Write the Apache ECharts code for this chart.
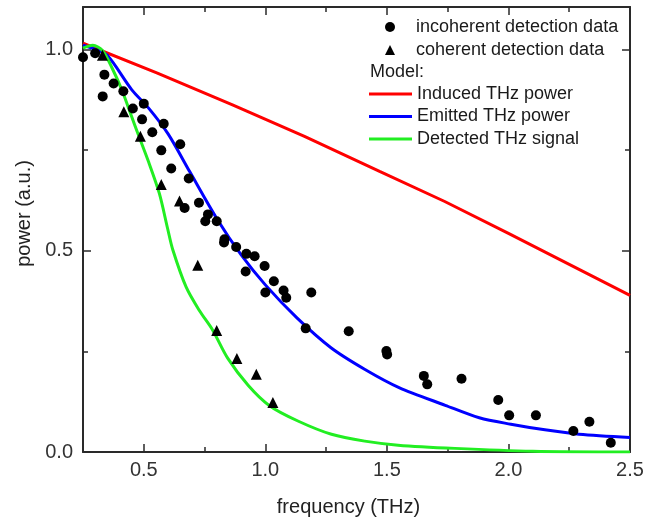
<!DOCTYPE html>
<html>
<head>
<meta charset="utf-8">
<script src="https://cdn.jsdelivr.net/npm/echarts@6/dist/echarts.min.js"></script>
<style>
html,body{margin:0;padding:0;background:#fff;}
#chart{width:647px;height:522px;}
</style>
</head>
<body>
<div id="chart"></div>
<script>
// ---- data ----
var incoherentX = [0.25,0.30,0.331,0.338,0.376,0.416,0.455,0.50,0.493,0.535,0.582,0.572,0.65,0.613,0.685,0.727,0.668,0.764,0.753,0.80,0.832,0.83,0.88,0.922,0.956,0.919,0.997,1.0,1.035,1.075,1.086,1.189,1.166,1.343,1.498,1.501,1.652,1.666,1.807,1.958,2.003,2.113,2.267,2.333,2.421];
var incoherentY = [0.98,0.99,0.883,0.937,0.915,0.896,0.853,0.865,0.826,0.794,0.815,0.749,0.764,0.704,0.679,0.619,0.606,0.59,0.573,0.573,0.528,0.52,0.509,0.492,0.486,0.448,0.462,0.396,0.424,0.401,0.383,0.396,0.307,0.30,0.251,0.242,0.189,0.168,0.182,0.129,0.091,0.091,0.052,0.075,0.023];

var coherentX = [0.33,0.418,0.486,0.572,0.647,0.722,0.80,0.883,0.963,1.031];
var coherentY = [0.985,0.845,0.784,0.664,0.623,0.464,0.302,0.232,0.193,0.123];

var inducedX = [0.25,0.556,0.865,1.161,1.47,1.738,2.0,2.25,2.5];
var inducedY = [1.015,0.941,0.862,0.784,0.697,0.622,0.543,0.466,0.389];

var emittedX = [0.25,0.30,0.35,0.45,0.52,0.60,0.69,0.80,0.90,1.0,1.13,1.27,1.41,1.55,1.74,1.88,2.01,2.15,2.29,2.5];
var emittedY = [1.01,1.0,0.985,0.90,0.854,0.79,0.695,0.58,0.49,0.415,0.333,0.259,0.205,0.16,0.116,0.085,0.069,0.055,0.044,0.036];

var detectedX = [0.25,0.29,0.33,0.37,0.41,0.45,0.48,0.52,0.564,0.598,0.619,0.674,0.73,0.783,0.845,0.93,1.017,1.134,1.272,1.409,1.546,1.78,2.1,2.5];
var detectedY = [1.003,1.01,0.997,0.953,0.899,0.833,0.784,0.72,0.642,0.555,0.503,0.41,0.35,0.303,0.233,0.165,0.115,0.077,0.044,0.027,0.017,0.009,0.002,0.0];

var xMajorTicks = [0.5,1.0,1.5,2.0,2.5];
var xMinorTicks = [0.75,1.25,1.75,2.25];
var yMajorTicks = [0.0,0.5,1.0];
var yMinorTicks = [0.25,0.75];

var seriesNames = ['incoherent detection data','coherent detection data','Induced THz power','Emitted THz power','Detected THz signal'];

function pairs(xs, ys){ return xs.map(function(x,i){ return [x, ys[i]]; }); }

var FONT = '"Liberation Sans", Arial, sans-serif';
var AX = '#2a2a2a';

function xAxisDef(pos, major, show){
  return {
    type:'value', gridIndex:0, position:pos, min:0.25, max:2.5,
    axisLine:{show:show, onZero:false, lineStyle:{color:AX, width:2}},
    axisTick:{show:true, inside:true, length: major ? 8 : 5, customValues: major ? xMajorTicks : xMinorTicks, lineStyle:{color:AX, width:1.5}},
    axisLabel:{show:false},
    splitLine:{show:false}
  };
}
function yAxisDef(pos, major, show){
  return {
    type:'value', gridIndex:0, position:pos, min:0, max:1.105,
    axisLine:{show:show, onZero:false, lineStyle:{color:AX, width:2}},
    axisTick:{show:true, inside:true, length: major ? 8 : 5, customValues: major ? yMajorTicks : yMinorTicks, lineStyle:{color:AX, width:1.5}},
    axisLabel:{show:false},
    splitLine:{show:false}
  };
}

var xMain = xAxisDef('bottom', true, true);
xMain.axisLabel = {show:true, customValues:xMajorTicks, formatter:function(v){return v.toFixed(1);}, fontSize:20, color:'#333', margin:8, fontFamily:FONT};
xMain.name = 'frequency (THz)';
xMain.nameLocation = 'middle';
xMain.nameGap = 45;
xMain.nameTextStyle = {fontSize:20, color:'#222', fontFamily:FONT, padding:[0,16,0,0]};

var yMain = yAxisDef('left', true, true);
yMain.axisLabel = {show:true, customValues:yMajorTicks, formatter:function(v){return v.toFixed(1);}, fontSize:20, color:'#333', margin:10, fontFamily:FONT};
yMain.name = 'power (a.u.)';
yMain.nameLocation = 'middle';
yMain.nameGap = 49;
yMain.nameTextStyle = {fontSize:20, color:'#222', fontFamily:FONT, padding:[0,0,0,32]};

var legendText = {fontSize:18, color:'#1a1a1a', fontFamily:FONT};

var chart = echarts.init(document.getElementById('chart'), null, {renderer:'canvas'});
chart.setOption({
  animation:false,
  backgroundColor:'#fff',
  textStyle:{fontFamily:FONT},
  grid:{left:83, right:17, top:7, bottom:69, containLabel:false},
  xAxis:[xMain, xAxisDef('bottom', false, false), xAxisDef('top', true, true), xAxisDef('top', false, false)],
  yAxis:[yMain, yAxisDef('left', false, false), yAxisDef('right', true, true), yAxisDef('right', false, false)],
  legend:[
    {data:[{name:seriesNames[0], icon:'circle'}, {name:seriesNames[1], icon:'triangle'}],
     orient:'vertical', left:385, top:18, padding:0, itemWidth:10, itemHeight:10, itemGap:5, selectedMode:false,
     textStyle:Object.assign({padding:[0,0,0,16]}, legendText)},
    {data:[{name:seriesNames[2], icon:'rect'}, {name:seriesNames[3], icon:'rect'}, {name:seriesNames[4], icon:'rect'}],
     orient:'vertical', left:369, top:85, padding:0, itemWidth:43, itemHeight:3, itemGap:4.5, selectedMode:false,
     textStyle:Object.assign({lineHeight:18}, legendText)}
  ],
  graphic:[
    {type:'text', left:370, top:63, style:{text:'Model:', fontSize:18, fill:'#1a1a1a', fontFamily:FONT}}
  ],
  series:[
    {name:seriesNames[2], type:'line', data:pairs(inducedX, inducedY), symbol:'none', smooth:false,
     lineStyle:{color:'#ff0000', width:3}, itemStyle:{color:'#ff0000'}, z:2},
    {name:seriesNames[3], type:'line', data:pairs(emittedX, emittedY), symbol:'none', smooth:0.3,
     lineStyle:{color:'#0000ff', width:3}, itemStyle:{color:'#0000ff'}, z:2},
    {name:seriesNames[4], type:'line', data:pairs(detectedX, detectedY), symbol:'none', smooth:0.3,
     lineStyle:{color:'#22ee22', width:3}, itemStyle:{color:'#22ee22'}, z:2},
    {name:seriesNames[0], type:'scatter', data:pairs(incoherentX, incoherentY), symbol:'circle', symbolSize:10,
     itemStyle:{color:'#000', opacity:1}, z:3},
    {name:seriesNames[1], type:'scatter', data:pairs(coherentX, coherentY), symbol:'triangle', symbolSize:11,
     itemStyle:{color:'#000', opacity:1}, z:3}
  ]
});
</script>
</body>
</html>
